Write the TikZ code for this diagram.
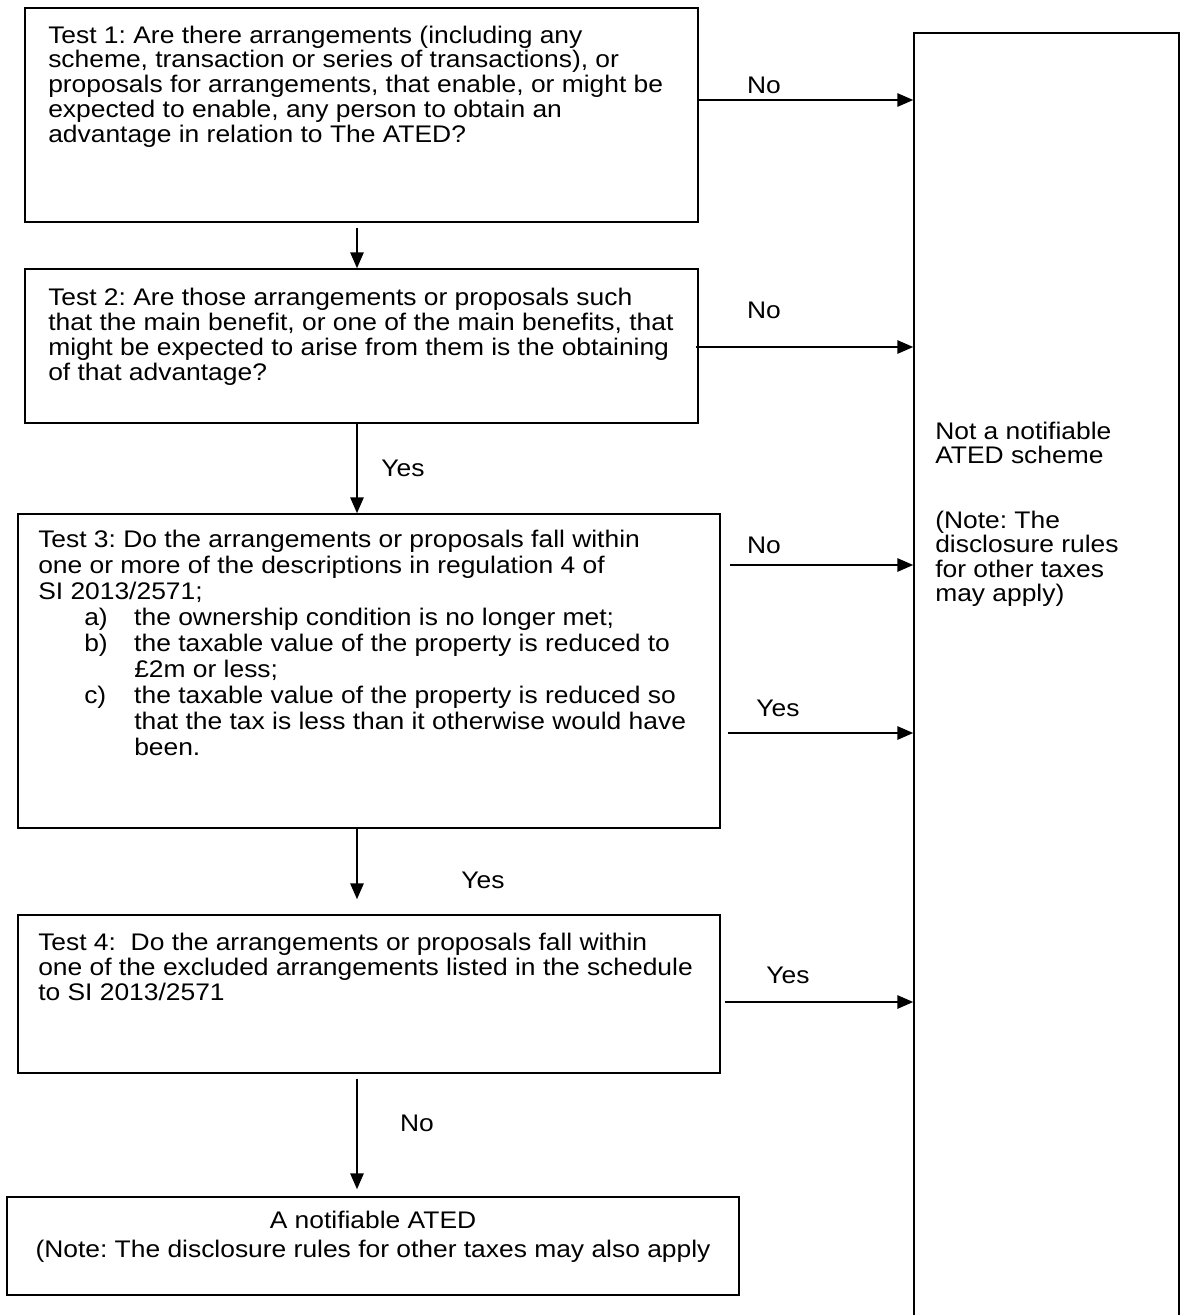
\documentclass[tikz,border=0pt]{standalone}
\usepackage{fontspec}
\setmainfont[FakeStretch=1.1]{Liberation Sans}
\usetikzlibrary{arrows.meta,calc,fit}
\frenchspacing
\begin{document}
\begin{tikzpicture}[x=0.75pt,y=-0.75pt,
  box/.style={draw, line width=1.1pt, inner sep=0pt, rectangle},
  txt/.style={inner sep=0pt, anchor=base west, font=\fontsize{18}{18.75}\selectfont},
  lbl/.style={inner sep=0pt, anchor=base, font=\fontsize{18}{18.75}\selectfont},
  arr/.style={line width=1.5pt, -{Triangle[length=12pt,width=10pt]}}]
\useasboundingbox (0,0) rectangle (1180,1315);

% boxes
\node[box, fit={(25,8) (698,222)}] (b1) {};
\node[box, fit={(25,269) (698,423)}] (b2) {};
\node[box, fit={(18,514) (720,828)}] (b3) {};
\node[box, fit={(18,915) (720,1073)}] (b4) {};
\node[box, fit={(7,1197) (739,1295)}] (b5) {};
\node[box, fit={(914,33) (1179,1340)}] (R) {};

% texts
\node[txt] (t1) at (48,43) {\parbox[t]{483pt}{\raggedright\baselineskip=18.6pt
Test 1: Are there arrangements (including any\\
scheme, transaction or series of transactions), or\\
proposals for arrangements, that enable, or might be\\
expected to enable, any person to obtain an\\
advantage in relation to The ATED?}};

\node[txt] (t2) at (48,305) {\parbox[t]{483pt}{\raggedright
Test 2: Are those arrangements or proposals such\\
that the main benefit, or one of the main benefits, that\\
might be expected to arise from them is the obtaining\\
of that advantage?}};

\node[txt] (t3) at (38,547) {\parbox[t]{508pt}{\raggedright\baselineskip=19.5pt
Test 3: Do the arrangements or proposals fall within\\
one or more of the descriptions in regulation 4 of\\
SI 2013/2571;\\
\hspace*{34.5pt}\makebox[37.5pt][l]{a)}the ownership condition is no longer met;\\
\hspace*{34.5pt}\makebox[37.5pt][l]{b)}the taxable value of the property is reduced to\\
\hspace*{72pt}£2m or less;\\
\hspace*{34.5pt}\makebox[37.5pt][l]{c)}the taxable value of the property is reduced so\\
\hspace*{72pt}that the tax is less than it otherwise would have\\
\hspace*{72pt}been.}};

\node[txt] (t4) at (38,950) {\parbox[t]{508pt}{\raggedright
Test 4:\ \ Do the arrangements or proposals fall within\\
one of the excluded arrangements listed in the schedule\\
to SI 2013/2571}};

\node[txt, anchor=base] (t5) at (373,1228) {\parbox[t]{540pt}{\centering\baselineskip=21.75pt
A notifiable ATED\\
(Note: The disclosure rules for other taxes may also apply}};

\node[txt] (tr) at (935,439) {\parbox[t]{179pt}{\raggedright\baselineskip=18.4pt
Not a notifiable\\
ATED scheme\\[30pt]
(Note: The\\
disclosure rules\\
for other taxes\\
may apply)}};

% helper coordinates
\coordinate (ax) at (357,0);
\coordinate (h1y) at (0,100);
\coordinate (h2y) at (0,347);
\coordinate (h3y) at (0,565);
\coordinate (h4y) at (0,733);
\coordinate (h5y) at (0,1002);

% vertical connectors
\draw[arr] ($(ax |- b1.south)+(0,5)$) -- (ax |- b2.north);
\draw[arr] (ax |- b2.south) -- (ax |- b3.north);
\draw[arr] (ax |- b3.south) -- ($(ax |- b4.north)+(0,-15)$);
\draw[arr] ($(ax |- b4.south)+(0,5)$) -- ($(ax |- b5.north)+(0,-7)$);

% horizontal connectors
\draw[arr] (b1.east |- h1y) -- (R.west |- h1y);
\draw[arr] ($(b2.east |- h2y)+(-3,0)$) -- (R.west |- h2y);
\draw[arr] ($(b3.east |- h3y)+(9,0)$) -- (R.west |- h3y);
\draw[arr] ($(b3.east |- h4y)+(7,0)$) -- (R.west |- h4y);
\draw[arr] ($(b4.east |- h5y)+(4,0)$) -- (R.west |- h5y);

% labels
\node[lbl] (l1) at (764,93) {No};
\node[lbl] (l2) at (764,318) {No};
\node[lbl] (l3) at (764,553) {No};
\node[lbl] (l4) at (778,716) {Yes};
\node[lbl] (l5) at (788,983) {Yes};
\node[lbl] (l6) at (403,476) {Yes};
\node[lbl] (l7) at (483,888) {Yes};
\node[lbl] (l8) at (417,1131) {No};
\end{tikzpicture}
\end{document}
